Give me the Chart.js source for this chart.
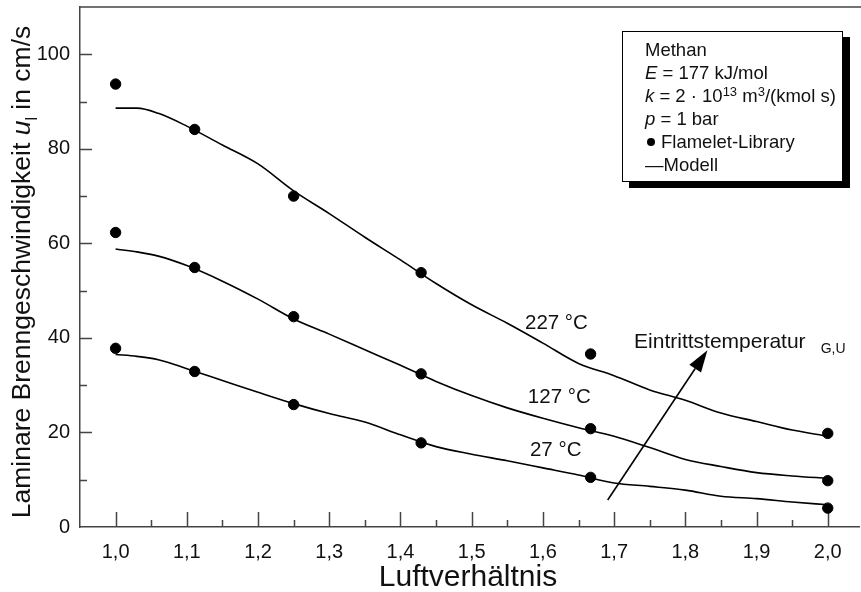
<!DOCTYPE html>
<html>
<head>
<meta charset="utf-8">
<script src="https://cdn.jsdelivr.net/npm/chart.js@4.4.0/dist/chart.umd.min.js"></script>
<style>
  body { margin: 0; background: #fff; overflow: hidden; }
  #wrap { position: relative; width: 861px; height: 592px; overflow: hidden; }
  #legendBox {
    position: absolute; left: 622px; top: 31px; width: 221px; height: 151px;
    border: 1px solid #000; background: #fff; box-shadow: 7px 6px 0 #000;
    font-family: "Liberation Sans", Arial, sans-serif; font-size: 18.5px; color: #111;
    box-sizing: border-box; padding: 6px 0 0 22px; line-height: 23px; white-space: nowrap;
  }
  #legendBox sup { font-size: 13px; line-height: 0; vertical-align: 6px; }
  .dot { display: inline-block; width: 8px; height: 8px; border-radius: 50%; background: #000; margin: 0 6px 2px 2px; }
</style>
</head>
<body>
<div id="wrap">
  <!-- 5 px breiter, weil Chart.js rechts einen Rand lässt; der Rest wird abgeschnitten -->
  <canvas id="myChart" width="866" height="592"></canvas>
  <div id="legendBox">
    <div>Methan</div>
    <div><i>E</i> = 177 kJ/mol</div>
    <div><i>k</i> = 2 · 10<sup>13</sup> m<sup>3</sup>/(kmol s)</div>
    <div><i>p</i> = 1 bar</div>
    <div><span class="dot"></span>Flamelet-Library</div>
    <div>—Modell</div>
  </div>
</div>
<script>
/* Daten */
const xTicks = [1.0, 1.1, 1.2, 1.3, 1.4, 1.5, 1.6, 1.7, 1.8, 1.9, 2.0];
const yTicks = [0, 20, 40, 60, 80, 100];

// Flamelet-Library Punkte
const libX = [1.0, 1.111, 1.25, 1.429, 1.667, 2.0];
const lib227 = [93.7, 84.1, 70.0, 53.8, 36.6, 19.8];
const lib127 = [62.3, 54.9, 44.5, 32.4, 20.8, 9.8];
const lib27 = [37.8, 32.9, 25.9, 17.8, 10.5, 4.0];

// Modell-Kurven
const modelX = [1.0, 1.03, 1.06, 1.1, 1.15, 1.2, 1.25, 1.3, 1.35, 1.4, 1.45, 1.5, 1.55, 1.6, 1.65, 1.7, 1.75, 1.8, 1.85, 1.9, 1.95, 2.0];
const model227 = [88.6, 88.6, 87.5, 84.8, 80.8, 76.8, 71.1, 66.3, 61.3, 56.5, 51.5, 47.0, 43.1, 38.9, 34.6, 32.0, 29.0, 26.8, 24.1, 22.3, 20.5, 19.2];
const model127 = [58.8, 58.2, 57.3, 55.3, 52.0, 48.2, 44.0, 40.8, 37.5, 34.2, 30.8, 27.8, 25.2, 23.0, 21.0, 19.2, 16.8, 14.3, 12.8, 11.5, 10.8, 10.3];
const model27 = [36.5, 36.1, 35.4, 33.5, 31.0, 28.5, 26.1, 24.0, 22.2, 19.5, 17.0, 15.4, 14.0, 12.5, 11.0, 9.3, 8.6, 7.8, 6.5, 6.0, 5.3, 4.7];

const curveLabels = ['227 °C', '127 °C', '27 °C'];
const labelPos = [[1.619, 43.1], [1.623, 27.5], [1.618, 16.3]];

const FONT = '"Liberation Sans", Arial, sans-serif';
const TXT = '#111';

const pts = (xs, ys) => xs.map((x, i) => ({ x: x, y: ys[i] }));

function modelSet(ys) {
  return {
    type: 'line', data: pts(modelX, ys), borderColor: '#000', borderWidth: 1.6,
    pointRadius: 0, cubicInterpolationMode: 'monotone', fill: false,
  };
}
function libSet(ys) {
  return {
    type: 'scatter', data: pts(libX, ys), backgroundColor: '#000', borderColor: '#000',
    pointRadius: 5.2, pointHoverRadius: 5.2,
  };
}

// Ticks nach innen, Beschriftungen, Pfeil, Achsentitel
const decor = {
  id: 'decor',
  beforeDatasetsDraw(chart) {
    const ctx = chart.ctx, xs = chart.scales.x, ys = chart.scales.y, a = chart.chartArea;
    ctx.save();
    ctx.strokeStyle = '#444';
    ctx.lineWidth = 1.5;
    ctx.beginPath();
    ctx.moveTo(a.left, a.top); ctx.lineTo(a.right + 5, a.top);
    for (let v = 1.0; v <= 2.001; v += 0.05) {
      const px = Math.round(xs.getPixelForValue(v)) + 0.5;
      const major = Math.abs(v * 10 - Math.round(v * 10)) < 0.01;
      ctx.moveTo(px, a.bottom); ctx.lineTo(px, a.bottom - (major ? 15 : 7));
    }
    for (let v = 10; v <= 100; v += 10) {
      const py = Math.round(ys.getPixelForValue(v)) + 0.5;
      ctx.moveTo(a.left, py); ctx.lineTo(a.left + (v % 20 === 0 ? 12 : 7), py);
    }
    ctx.stroke();
    ctx.restore();
  },
  afterDraw(chart) {
    const ctx = chart.ctx, xs = chart.scales.x, ys = chart.scales.y;
    ctx.save();
    ctx.fillStyle = TXT;
    ctx.font = '20.5px ' + FONT;
    ctx.textAlign = 'center';
    ctx.textBaseline = 'middle';
    curveLabels.forEach((t, i) => {
      ctx.fillText(t, xs.getPixelForValue(labelPos[i][0]), ys.getPixelForValue(labelPos[i][1]));
    });
    ctx.textAlign = 'left';
    ctx.font = '21px ' + FONT;
    ctx.fillText('Eintrittstemperatur', xs.getPixelForValue(1.728), ys.getPixelForValue(39.1));
    ctx.font = '14px ' + FONT;
    ctx.fillText('G,U', xs.getPixelForValue(1.99), ys.getPixelForValue(37.6));

    // Pfeil
    const x0 = xs.getPixelForValue(1.691), y0 = ys.getPixelForValue(5.7);
    const x1 = xs.getPixelForValue(1.831), y1 = ys.getPixelForValue(37.4);
    const ang = Math.atan2(y1 - y0, x1 - x0);
    const hl = 22, hw = 7;
    const bx = x1 - hl * Math.cos(ang), by = y1 - hl * Math.sin(ang);
    ctx.strokeStyle = '#000';
    ctx.lineWidth = 1.6;
    ctx.beginPath();
    ctx.moveTo(x0, y0); ctx.lineTo(bx, by);
    ctx.stroke();
    ctx.fillStyle = '#000';
    ctx.beginPath();
    ctx.moveTo(x1, y1);
    ctx.lineTo(bx + hw * Math.sin(ang), by - hw * Math.cos(ang));
    ctx.lineTo(bx - hw * Math.sin(ang), by + hw * Math.cos(ang));
    ctx.closePath();
    ctx.fill();

    // x-Achsentitel
    ctx.fillStyle = TXT;
    ctx.textAlign = 'center';
    ctx.textBaseline = 'middle';
    ctx.font = '30px ' + FONT;
    ctx.fillText('Luftverhältnis', 468, 578);

    // y-Achsentitel mit kursivem u und Index l
    const parts = [
      ['Laminare Brenngeschwindigkeit ', '26.5px ' + FONT, 0],
      ['u', 'italic 26.5px ' + FONT, 0],
      ['l', '16px ' + FONT, 7],
      [' in cm/s', '26.5px ' + FONT, 0],
    ];
    let total = 0;
    parts.forEach(p => { ctx.font = p[1]; total += ctx.measureText(p[0]).width; });
    ctx.translate(30, 272);
    ctx.rotate(-Math.PI / 2);
    ctx.textAlign = 'left';
    ctx.textBaseline = 'alphabetic';
    let cx = -total / 2;
    parts.forEach(p => {
      ctx.font = p[1];
      ctx.fillText(p[0], cx, p[2]);
      cx += ctx.measureText(p[0]).width;
    });
    ctx.restore();
  }
};

const chartConfig = {
  data: {
    datasets: [
      modelSet(model227), modelSet(model127), modelSet(model27),
      libSet(lib227), libSet(lib127), libSet(lib27),
    ],
  },
  options: {
    responsive: false,
    animation: false,
    layout: { padding: { top: 7, right: 0, left: 0, bottom: 0 } },
    plugins: { legend: { display: false }, tooltip: { enabled: false } },
    scales: {
      x: {
        type: 'linear', min: 0.95, max: 2.045,
        afterBuildTicks: s => { s.ticks = xTicks.map(v => ({ value: v })); },
        afterFit: s => { s.height = 65; s.paddingLeft = 0; s.paddingRight = 0; },
        grid: { display: true, drawOnChartArea: false, drawTicks: false },
        border: { display: true, color: '#444', width: 1.5 },
        ticks: {
          padding: 13, color: TXT, font: { family: FONT, size: 20 },
          maxRotation: 0, autoSkip: false,
          callback: v => v.toFixed(1).replace('.', ','),
        },
      },
      y: {
        type: 'linear', min: 0, max: 110,
        afterBuildTicks: s => { s.ticks = yTicks.map(v => ({ value: v })); },
        afterFit: s => { s.width = 80; s.paddingTop = 0; s.paddingBottom = 0; },
        grid: { display: true, drawOnChartArea: false, drawTicks: false },
        border: { display: true, color: '#444', width: 1.5 },
        ticks: { padding: 10, color: TXT, font: { family: FONT, size: 20 } },
      },
    },
  },
  plugins: [decor],
};

const ctx = document.getElementById('myChart').getContext('2d');
const myChart = new Chart(ctx, chartConfig);
</script>
</body>
</html>
